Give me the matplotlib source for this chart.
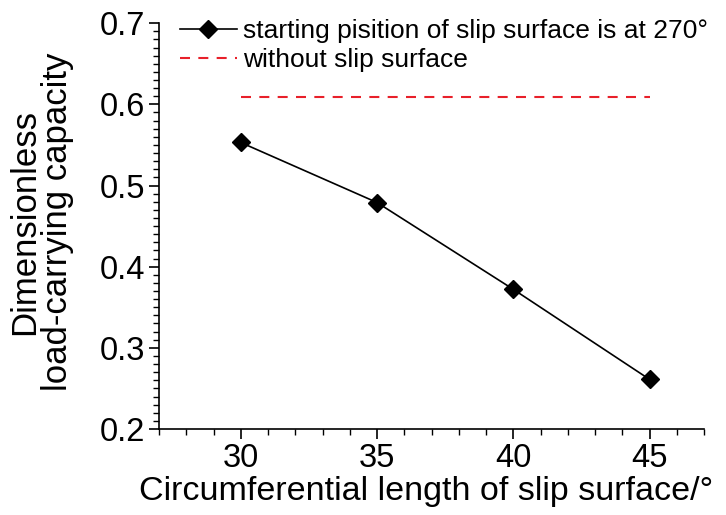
import matplotlib
matplotlib.use("Agg")
import matplotlib.pyplot as plt
from matplotlib.ticker import MultipleLocator, FormatStrFormatter

plt.rcParams['font.family'] = ['Liberation Sans', 'DejaVu Sans']

# data
slip_length = [30, 35, 40, 45]
capacity = [0.553, 0.479, 0.372, 0.261]
no_slip_x = [30, 45]
no_slip_y = [0.6085, 0.6085]

fig = plt.figure(figsize=(7.26, 5.15), dpi=100)
ax = fig.add_axes([0.219, 0.167, 0.751, 0.788])

ax.plot(slip_length, capacity, color='black', lw=1.2, marker='D', ms=9,
        label='starting pisition of slip surface is at 270°')
ax.plot(no_slip_x, no_slip_y, color='#e8202a', lw=1.5, ls=(0, (4.8, 4)),
        label='without slip surface')

ax.set_xlim(27, 47)
ax.set_ylim(0.2, 0.7)
ax.xaxis.set_major_locator(MultipleLocator(5))
ax.xaxis.set_minor_locator(MultipleLocator(1))
ax.yaxis.set_major_locator(MultipleLocator(0.1))
ax.yaxis.set_minor_locator(MultipleLocator(0.01))
ax.yaxis.set_major_formatter(FormatStrFormatter('%.1f'))

for s in ['top', 'right']:
    ax.spines[s].set_visible(False)
for s in ['left', 'bottom']:
    ax.spines[s].set_linewidth(1.2)

ax.tick_params(which='major', direction='out', length=7, width=1.2,
               labelsize=23.5, pad=3)
ax.tick_params(which='minor', direction='out', length=4, width=1.0)

ax.set_xlabel('Circumferential length of slip surface/°', fontsize=24.5)
ax.xaxis.set_label_coords(0.49, -0.117)
ax.set_ylabel('Dimensionless\nload-carrying capacity', fontsize=25,
              linespacing=1.0)
ax.yaxis.set_label_coords(-0.156, 0.51)

ax.legend(loc='upper left', frameon=False, fontsize=19, handlelength=2.15,
          handletextpad=0.25, borderaxespad=0.0, borderpad=0.0,
          labelspacing=0.2, bbox_to_anchor=(0.0385, 1.01))

fig.savefig('out.png', dpi=100)
